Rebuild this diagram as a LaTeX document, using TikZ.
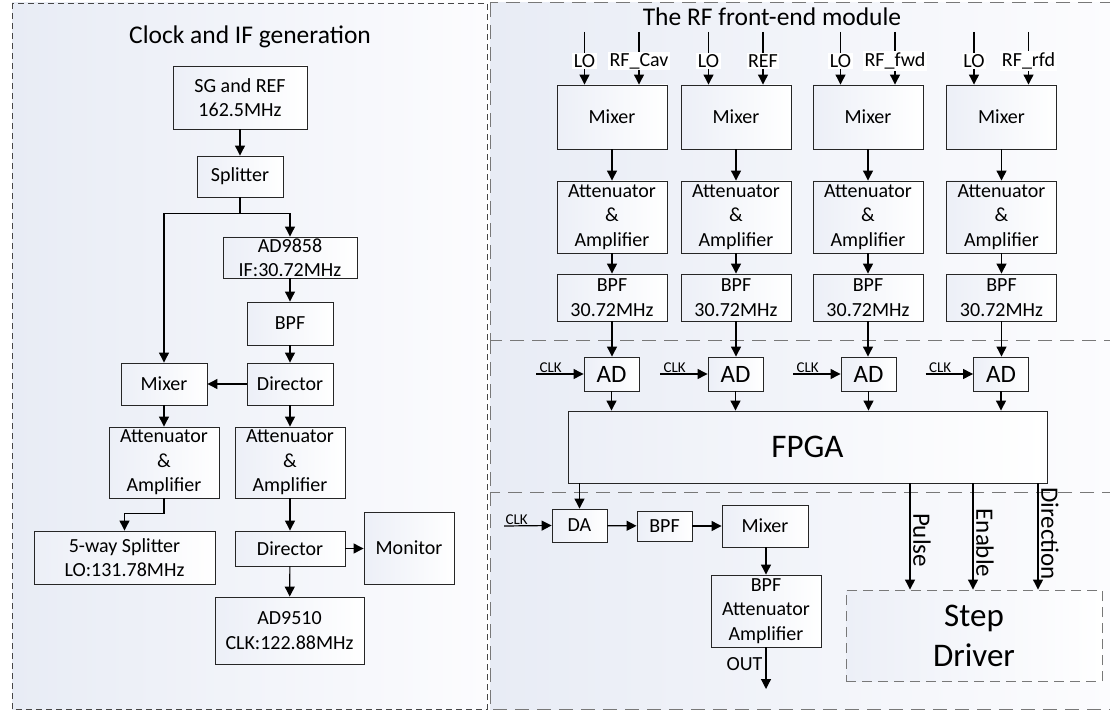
\documentclass[tikz,border=0pt]{standalone}
\usepackage{fontspec}
\setmainfont{Carlito}
\usetikzlibrary{arrows.meta}
\definecolor{panA}{RGB}{232,236,245}
\definecolor{panB}{RGB}{252,252,254}
\definecolor{boxA}{RGB}{236,239,247}
\definecolor{dashL}{RGB}{70,70,70}
\definecolor{dashR}{RGB}{120,120,120}
\tikzset{
 blk/.style={draw=black!85, line width=0.9pt, left color=boxA, right color=white, align=center, inner sep=1pt, font=\fontsize{20}{24.5}\selectfont},
 arr/.style={-{Triangle[length=10pt,width=10pt]}, line width=1.2pt},
 lbl/.style={fill=white, inner sep=1.5pt, font=\fontsize{20}{24}\selectfont},
 clk/.style={inner sep=1pt, font=\fontsize{15}{18}\selectfont},
 sig/.style={rotate=-90, anchor=south, inner sep=0pt, font=\fontsize{25}{30}\selectfont},
 ttl/.style={font=\fontsize{25.5}{30}\selectfont},
 panL/.style={draw=dashL, line width=0.9pt, dash pattern=on 6pt off 4pt, left color=panA, right color=panB},
 panR/.style={draw=dashR, line width=1pt, dash pattern=on 14pt off 8pt, left color=panA, right color=panB},
}
\begin{document}
\begin{tikzpicture}[x=1pt,y=-1pt]
\useasboundingbox (0,0) rectangle (1110,711);
% panels
\path[panL] (12,3) rectangle (487,709);
\path[panR] (490,3) rectangle (1114,340);
\path[panR] (490,340) rectangle (1114,492);
\path[panR] (490,492) rectangle (1114,709);
% titles
\node[ttl] (t1) at (250,36.5) {Clock and IF generation};
\node[ttl] (t2) at (772,17) {The RF front-end module};
% ---- left panel
\node[blk, minimum width=134pt, minimum height=63pt] (sg) at (240,97.5) {SG and REF\\162.5MHz};
\node[blk, minimum width=86pt, minimum height=41pt] (spl) at (240,176.5) {Splitter};
\node[blk, minimum width=134pt, minimum height=41pt] (ad98) at (290,257.5) {AD9858\\IF:30.72MHz};
\node[blk, minimum width=86pt, minimum height=43pt] (bpfL) at (290,323.5) {BPF};
\node[blk, minimum width=86pt, minimum height=42pt] (mixL) at (164,384) {Mixer};
\node[blk, minimum width=86pt, minimum height=42pt] (dir1) at (290,384) {Director};
\node[blk, minimum width=110pt, minimum height=71pt] (attL) at (164,462.5) {Attenuator\\\&\\Amplifier};
\node[blk, minimum width=110pt, minimum height=71pt] (attR) at (290,462.5) {Attenuator\\\&\\Amplifier};
\node[blk, minimum width=181pt, minimum height=53pt] (split5) at (124.5,557.5) {5-way Splitter\\LO:131.78MHz};
\node[blk, minimum width=110pt, minimum height=35pt] (dir2) at (290,548.5) {Director};
\node[blk, minimum width=90pt, minimum height=72pt] (mon) at (409,548) {Monitor};
\node[blk, minimum width=149pt, minimum height=67pt] (ad95) at (289.5,630.5) {AD9510\\CLK:122.88MHz};
\draw[arr] (sg) -- (spl);
\draw[arr] (spl.south) -- ++(0,16) -| (ad98.north);
\draw[arr] (spl.south) -- ++(0,16) -| (mixL.north);
\draw[arr] (ad98) -- (bpfL);
\draw[arr] (bpfL) -- (dir1);
\draw[arr] (dir1) -- (mixL);
\draw[arr] (mixL) -- (attL);
\draw[arr] (dir1) -- (attR);
\draw[arr] (attL.south) -- ++(0,15) -| (split5.north);
\draw[arr] (attR) -- (dir2);
\draw[arr] (dir2.east) -- (dir2.east -| mon.west);
\draw[arr] (dir2) -- (ad95);
% ---- RF front end
\foreach \i/\x/\rf in {1/612/RF\_Cav, 2/736/REF, 3/868/RF\_fwd, 4/1001.5/RF\_rfd}{
  \node[blk, minimum width=110pt, minimum height=64pt] (m\i) at (\x,117) {Mixer};
  \node[blk, minimum width=110pt, minimum height=72pt] (a\i) at (\x,217) {Attenuator\\\&\\Amplifier};
  \node[blk, minimum width=110pt, minimum height=47pt] (b\i) at (\x,297.5) {BPF\\30.72MHz};
  \coordinate (lo\i) at (\x-27.5,32);
  \coordinate (rf\i) at (\x+27,32);
  \draw[arr] (lo\i) -- node[lbl, pos=0.55] {LO} (lo\i |- m\i.north);
  \draw[arr] (rf\i) -- node[lbl, pos=0.55] {\rf} (rf\i |- m\i.north);
  \draw[arr] (m\i) -- (a\i);
  \draw[arr] (a\i) -- (b\i);
}
% ---- AD / FPGA
\node[blk, minimum width=479pt, minimum height=72pt, font=\fontsize{33}{40}\selectfont] (fpga) at (807.5,447) {FPGA};
\foreach \i/\x in {1/611.5, 2/735.5, 3/868.5, 4/1001}{
  \node[blk, minimum width=55pt, minimum height=34pt, font=\fontsize{25}{30}\selectfont] (ad\i) at (\x,374) {AD};
  \coordinate (ck\i) at (\x-75.5,374);
  \draw[arr] (ck\i) -- node[clk, pos=0, anchor=south west, xshift=2pt] {CLK} (ad\i.west);
  \draw[arr] (b\i.south) -- (b\i.south |- ad\i.north);
  \draw[arr] (ad\i) -- (ad\i.south |- fpga.north);
}
% ---- bottom panel
\node[blk, minimum width=55pt, minimum height=33pt] (da) at (579.5,525.5) {DA};
\node[blk, minimum width=55pt, minimum height=30pt] (bpfd) at (664.5,526) {BPF};
\node[blk, minimum width=86pt, minimum height=42pt] (mixo) at (765,526) {Mixer};
\node[blk, minimum width=110pt, minimum height=72pt] (bpfo) at (766,611) {BPF\\Attenuator\\Amplifier};
\coordinate (ckd) at (504,526);
\coordinate (out) at (766,689);
\draw[arr] (fpga.south -| da.north) -- (da.north);
\draw[arr] (ckd) -- node[clk, pos=0, anchor=south west, xshift=0pt] {CLK} (da.west);
\draw[arr] (da) -- (bpfd);
\draw[arr] (bpfd) -- (mixo);
\draw[arr] (mixo.south -| bpfo.north) -- (bpfo.north);
\draw[arr] (bpfo.south) -- node[pos=0.4, left, inner sep=3pt, font=\fontsize{20}{24}\selectfont] {OUT} (out);
% step driver
\node[blk, draw=dashR, dash pattern=on 10pt off 6pt, minimum width=256pt, minimum height=91pt, font=\fontsize{33}{40}\selectfont] (step) at (974,635.5) {Step\\Driver};
\coordinate (px) at (910,0);
\coordinate (ex) at (973,0);
\coordinate (dx) at (1038,0);
\draw[arr] (fpga.south -| px) -- (step.north -| px);
\draw[arr] (fpga.south -| ex) -- (step.north -| ex);
\draw[arr] (fpga.south -| dx) -- (step.north -| dx);
\node[sig] (pl) at (913,540) {Pulse};
\node[sig] (el) at (976,543) {Enable};
\node[sig] (dl) at (1041,533.5) {Direction};
\end{tikzpicture}
\end{document}
